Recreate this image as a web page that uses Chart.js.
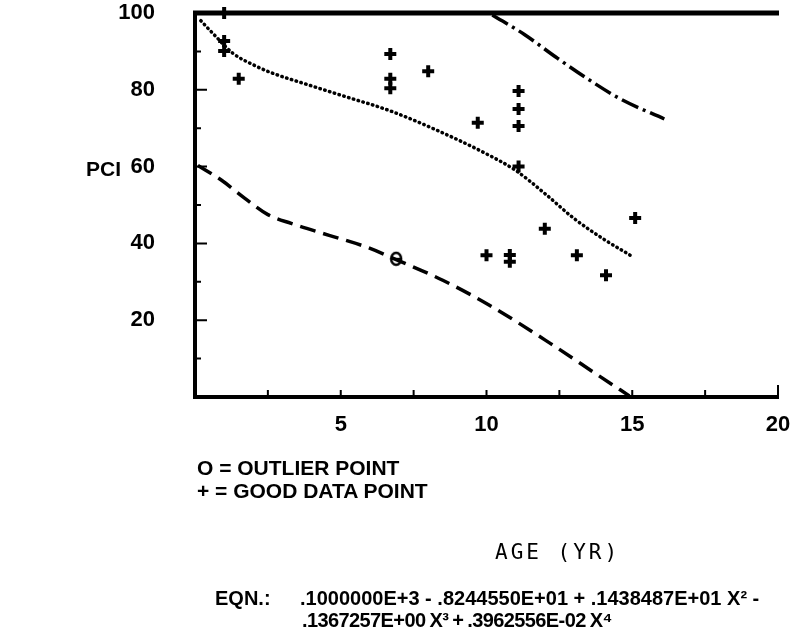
<!DOCTYPE html>
<html>
<head>
<meta charset="utf-8">
<script src="https://cdn.jsdelivr.net/npm/chart.js@4/dist/chart.umd.min.js"></script>
<style>
  body { margin: 0; background: #fff; }
  #wrap { position: relative; width: 793px; height: 637px; }
  .txt { position: absolute; font-family: "Liberation Sans", Arial, sans-serif; font-weight: bold;
         font-size: 21px; line-height: 1; color: #000; white-space: pre; }
  .eqn { font-size: 20px; }
  .mono { font-family: "DejaVu Sans Mono", monospace; font-weight: normal; font-size: 21px; letter-spacing: 3px; }
</style>
</head>
<body>
<div id="wrap">
  <canvas id="myChart" width="793" height="637"></canvas>
  <div class="txt" style="left:86px;top:158px;">PCI</div>
  <div class="txt" style="left:197px;top:457px;">O = OUTLIER POINT</div>
  <div class="txt" style="left:197px;top:480px;">+ = GOOD DATA POINT</div>
  <div class="txt mono" style="left:495px;top:542px;">AGE (YR)</div>
  <div class="txt eqn" style="left:215px;top:588px;">EQN.:</div>
  <div class="txt eqn" style="left:300px;top:588px;">.1000000E+3 - .8244550E+01 + .1438487E+01 X² -</div>
  <div class="txt eqn" style="left:302px;top:610px;letter-spacing:-0.6px;word-spacing:-1px;">.1367257E+00 X³ + .3962556E-02 X⁴</div>
</div>
<script>
'use strict';

// good data points (+)
const goodX = [1.0, 1.0, 1.0, 1.5, 6.7, 6.7, 6.7, 8.0, 9.7, 10.0, 10.8, 10.8, 11.1, 11.1, 11.1, 11.1, 12.0, 13.1, 14.1, 15.1];
const goodY = [100, 92.7, 90.1, 82.9, 89.3, 82.9, 80.4, 84.8, 71.4, 36.9, 37.0, 35.2, 79.7, 75.0, 70.6, 60.0, 43.8, 36.9, 31.7, 46.6];

// outlier (O)
const outX = [6.9];
const outY = [36.0];

// fitted curve (dotted)
const fitX = [0.2, 0.7, 1.3, 2.0, 2.6, 3.8, 5.0, 6.7, 8.2, 10.0, 11.0, 12.0, 13.0, 14.0, 15.0];
const fitY = [98, 94, 89.5, 86.5, 84.5, 81.5, 78.6, 74.5, 69.8, 63.3, 59, 53, 46.5, 41.2, 36.6];

// lower bound (dashed)
const lowX = [0.1, 0.9, 1.7, 2.5, 3.3, 4.6, 5.9, 6.9, 8.5, 10.1, 12.2, 13.9, 14.9];
const lowY = [60.3, 56.5, 51.8, 47.5, 45.2, 42.1, 39.0, 35.8, 30.4, 23.9, 13.9, 5.3, 0.3];

// upper bound (dash-dot)
const upX = [10.2, 11.3, 12.4, 13.4, 14.6, 16.1];
const upY = [99.5, 94.4, 88.4, 83.2, 77.6, 72.4];

const xTickVals = [5, 10, 15, 20];
const yTickVals = [20, 40, 60, 80, 100];

function pts(xs, ys) {
  return xs.map((x, i) => ({ x: x, y: ys[i] }));
}

// theta-like marker for the outlier
function thetaMarker() {
  const c = document.createElement('canvas');
  c.width = 14; c.height = 16;
  const g = c.getContext('2d');
  g.fillStyle = '#fff';
  g.strokeStyle = '#000';
  g.lineWidth = 2.5;
  g.beginPath();
  g.ellipse(7, 8, 5, 6, 0, 0, Math.PI * 2);
  g.fill();
  g.stroke();
  g.lineWidth = 2;
  g.beginPath();
  g.moveTo(2, 8); g.lineTo(12, 8);
  g.stroke();
  return c;
}

// top rule and inward tick marks
const frame = {
  id: 'frame',
  afterDatasetsDraw(chart) {
    const { ctx, chartArea: a, scales: { x, y } } = chart;
    ctx.save();
    ctx.strokeStyle = '#000';
    ctx.lineCap = 'butt';

    ctx.lineWidth = 5;
    ctx.beginPath();
    ctx.moveTo(a.left - 2, a.top);
    ctx.lineTo(a.right + 1, a.top);
    ctx.stroke();

    ctx.lineWidth = 2;
    ctx.beginPath();
    for (let v = 2.5; v <= 20; v += 2.5) {
      const px = x.getPixelForValue(v);
      const len = v === 20 ? 12 : 7;
      ctx.moveTo(px, a.bottom);
      ctx.lineTo(px, a.bottom - len);
    }
    for (let v = 10; v < 100; v += 10) {
      const py = y.getPixelForValue(v);
      const len = v % 20 === 0 ? 12 : 6;
      ctx.moveTo(a.left, py);
      ctx.lineTo(a.left + len, py);
    }
    ctx.stroke();
    ctx.restore();
  }
};

const tickFont = { family: '"Liberation Sans", Arial, sans-serif', size: 22, weight: 'bold' };

new Chart(document.getElementById('myChart'), {
  type: 'scatter',
  data: {
    datasets: [
      {
        data: pts(fitX, fitY),
        showLine: true,
        borderColor: '#000',
        borderWidth: 3.5,
        borderDash: [0.5, 4.5],
        borderCapStyle: 'round',
        pointRadius: 0,
        cubicInterpolationMode: 'monotone'
      },
      {
        data: pts(lowX, lowY),
        showLine: true,
        borderColor: '#000',
        borderWidth: 3.5,
        borderDash: [16, 8],
        pointRadius: 0,
        cubicInterpolationMode: 'monotone'
      },
      {
        data: pts(upX, upY),
        showLine: true,
        borderColor: '#000',
        borderWidth: 3.5,
        borderDash: [18, 5, 3, 5],
        pointRadius: 0,
        cubicInterpolationMode: 'monotone'
      },
      {
        data: pts(goodX, goodY),
        pointStyle: 'cross',
        pointRadius: 6,
        borderWidth: 4,
        borderColor: '#000',
        clip: false
      },
      {
        data: pts(outX, outY),
        pointStyle: thetaMarker(),
        pointRadius: 7
      }
    ]
  },
  options: {
    responsive: false,
    animation: false,
    layout: { padding: { left: 0, top: 13, right: 15, bottom: 0 } },
    plugins: { legend: { display: false }, tooltip: { enabled: false } },
    scales: {
      x: {
        type: 'linear',
        min: 0,
        max: 20,
        afterFit: s => { s.height = 240; s.paddingLeft = 0; s.paddingRight = 0; },
        afterBuildTicks: s => { s.ticks = xTickVals.map(v => ({ value: v })); },
        grid: { display: false, drawTicks: false },
        border: { display: true, width: 4, color: '#000' },
        ticks: { color: '#000', font: tickFont, padding: 15 }
      },
      y: {
        min: 0,
        max: 100,
        afterFit: s => { s.width = 195; s.paddingTop = 0; s.paddingBottom = 0; },
        afterBuildTicks: s => { s.ticks = yTickVals.map(v => ({ value: v })); },
        grid: { display: false, drawTicks: false },
        border: { display: true, width: 4, color: '#000' },
        ticks: { color: '#000', font: tickFont, padding: 40 }
      }
    }
  },
  plugins: [frame]
});
</script>
</body>
</html>
